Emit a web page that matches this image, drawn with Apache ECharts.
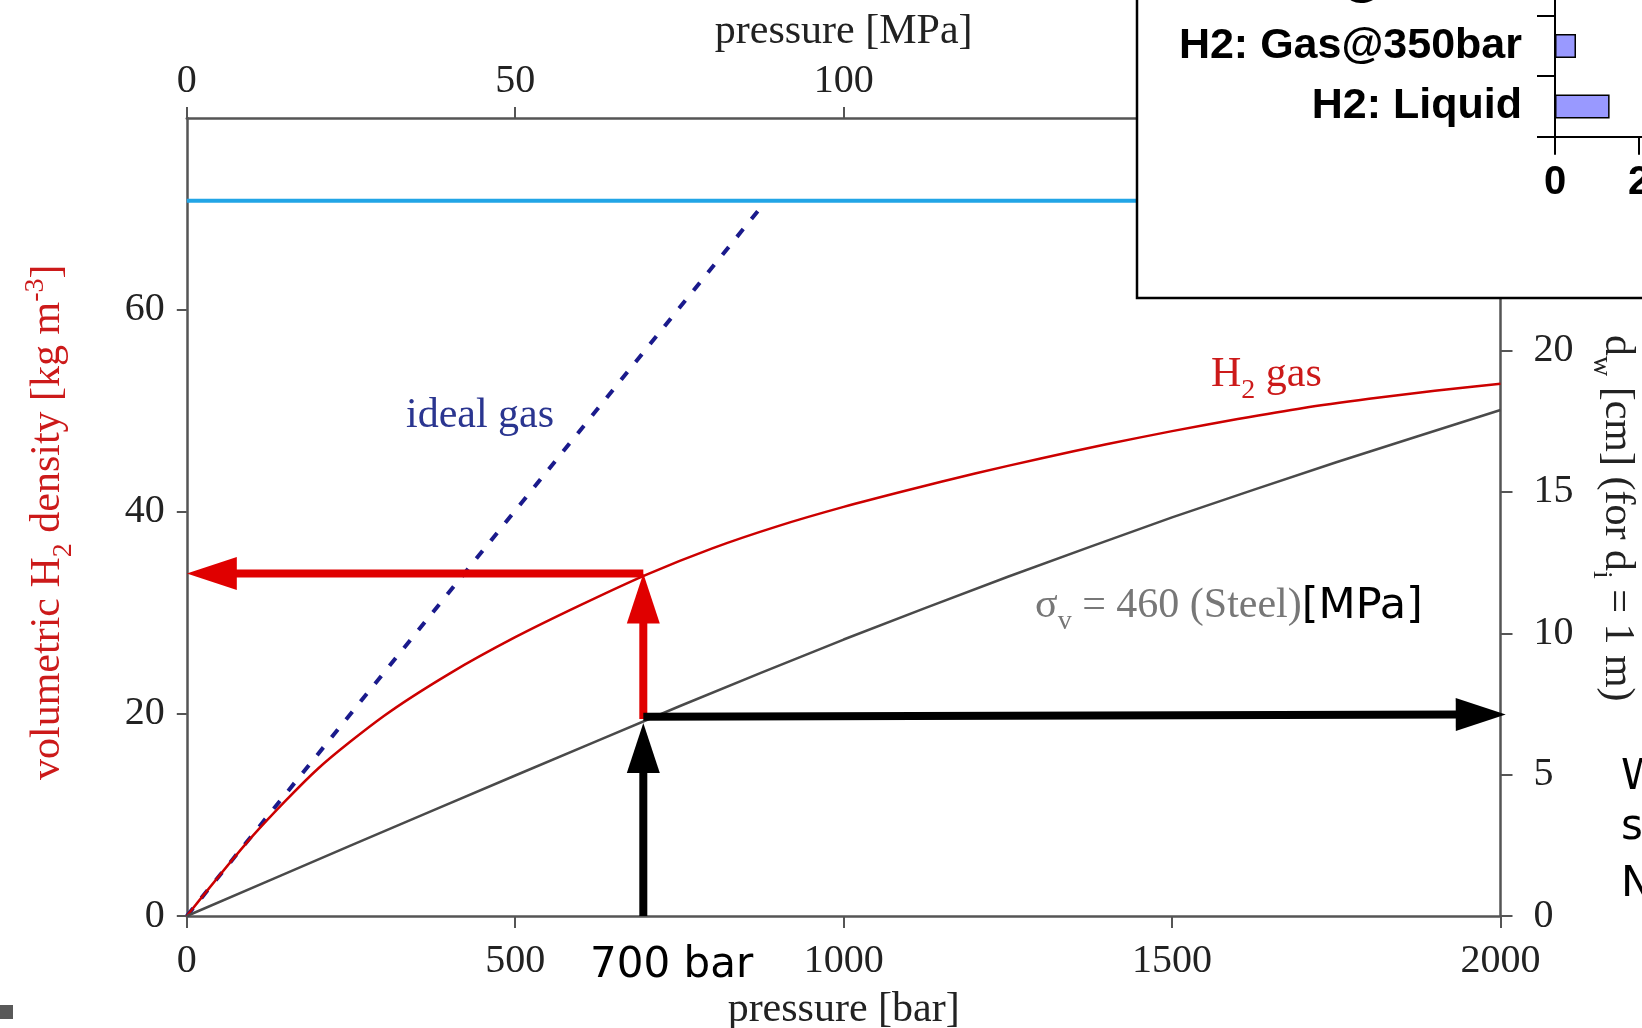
<!DOCTYPE html>
<html>
<head>
<meta charset="utf-8">
<title>H2 density vs pressure</title>
<script src="https://cdn.jsdelivr.net/npm/echarts@6/dist/echarts.min.js"></script>
<style>
html, body { margin: 0; padding: 0; background: #fff; }
#main { width: 1642px; height: 1028px; }
</style>
</head>
<body>
<div id="main"></div>
<script>
// values
var pressureBar = [0, 100, 200, 300, 400, 500, 600, 700, 800, 900, 1000, 1100, 1200, 1300, 1400, 1500, 1600, 1700, 1800, 1900, 2000];
var h2GasDensity = [0, 7.9, 14.6, 19.8, 24.0, 27.6, 30.8, 33.8, 36.4, 38.6, 40.5, 42.2, 43.8, 45.3, 46.7, 48.0, 49.2, 50.3, 51.2, 52.0, 52.7];
var steelPressure = [0, 250, 500, 750, 1000, 1250, 1500, 1750, 2000];
var steelWall = [0, 2.5, 4.97, 7.42, 9.78, 12.0, 14.1, 16.05, 17.9];
var idealGasPressure = [0, 877];
var idealGasDensity = [0, 70.4];
var liquidDensity = 70.8;
var densityTicks = [0, 20, 40, 60];
var wallTicks = [0, 5, 10, 15, 20, 25];
var markPressure = 695;
// arrows: [x from, y from, x to, y to]
var redArrows = [[markPressure, 19.5, markPressure, 33.9], [markPressure, 33.9, 0, 33.9]];
var blackArrows = [[markPressure, 0, markPressure, 6.83], [markPressure, 7.05, 2008, 7.13]];
// inset bar chart (cut off in the picture)
var insetCategories = ['H2: Gas@700bar', 'H2: Gas@350bar', 'H2: Liquid'];
var insetValues = [null, 0.5, 1.3];

var SERIF = '"Liberation Serif", "Times New Roman", serif';
var SANS = '"DejaVu Sans", sans-serif';
var ARIAL = '"Liberation Sans", Arial, sans-serif';
var RED = '#cc1a1a';

var mctx = document.createElement('canvas').getContext('2d');
function fnt(size, fam, weight) {
    return (weight ? weight + ' ' : '') + size + 'px ' + fam;
}
// lay text pieces one after another (for sub/superscripts)
function textRun(pieces) {
    var x = 0, out = [];
    pieces.forEach(function (p) {
        mctx.font = p[1];
        out.push({
            type: 'text', x: x, y: p[3] || 0,
            style: { text: p[0], font: p[1], fill: p[2], align: 'left', verticalAlign: 'middle' }
        });
        x += mctx.measureText(p[0]).width;
    });
    return out;
}
// same, one char at a time with extra tracking
function spacedText(str, font, color, track) {
    return textRun(str.split('').map(function (c) { return [c, font, color, 0]; }))
        .map(function (el, i) { el.x += i * track; return el; });
}

function arrowRenderer(color) {
    return function (params, api) {
        var a = api.coord([api.value(0), api.value(1)]);
        var b = api.coord([api.value(2), api.value(3)]);
        var dx = b[0] - a[0], dy = b[1] - a[1];
        var len = Math.sqrt(dx * dx + dy * dy);
        var ux = dx / len, uy = dy / len;
        var hl = 50, hw = 16.5;
        var bx = b[0] - ux * hl, by = b[1] - uy * hl;
        return {
            type: 'group',
            children: [
                { type: 'line', shape: { x1: a[0], y1: a[1], x2: bx + ux * 3, y2: by + uy * 3 },
                  style: { stroke: color, lineWidth: 8 } },
                { type: 'polygon', shape: { points: [[b[0], b[1]], [bx - uy * hw, by + ux * hw], [bx + uy * hw, by - ux * hw]] },
                  style: { fill: color } }
            ]
        };
    };
}

var chart = echarts.init(document.getElementById('main'));

var axisLine = { show: true, onZero: false, lineStyle: { color: '#555', width: 2.5 } };
var tickStyle = { color: '#555', width: 2 };
function plain(v) { return String(v); }
var labelStyle = { fontFamily: SERIF, fontSize: 40, color: '#222', formatter: plain };

var option = {
    backgroundColor: '#fff',
    animation: false,
    grid: [
        { left: 186.8, right: 141.5, top: 118, bottom: 112, outerBoundsMode: 'none', containLabel: false },
        { left: 1555, top: -44.8, width: 336, height: 181.5, outerBoundsMode: 'none', containLabel: false }
    ],
    xAxis: [
        {
            type: 'value', gridIndex: 0, position: 'bottom', min: 0, max: 2000, interval: 500,
            name: 'pressure [bar]', nameLocation: 'middle', nameGap: 73,
            nameTextStyle: { fontFamily: SERIF, fontSize: 42, color: '#222' },
            axisLine: axisLine,
            axisTick: { length: 12, lineStyle: tickStyle },
            axisLabel: Object.assign({ margin: 25 }, labelStyle),
            splitLine: { show: false }
        },
        {
            type: 'value', gridIndex: 0, position: 'top', min: 0, max: 200, interval: 50,
            name: 'pressure [MPa]', nameLocation: 'middle', nameGap: 65,
            nameTextStyle: { fontFamily: SERIF, fontSize: 42, color: '#222' },
            axisLine: axisLine,
            axisTick: { length: 11, lineStyle: tickStyle },
            axisLabel: Object.assign({ margin: 17 }, labelStyle),
            splitLine: { show: false }
        },
        {
            type: 'value', gridIndex: 1, min: 0, max: 8, interval: 2, z: 110,
            axisLine: { show: true, lineStyle: { color: '#000', width: 2 } },
            axisTick: { show: true, length: 18, lineStyle: { color: '#000', width: 2 } },
            axisLabel: { fontFamily: ARIAL, fontWeight: 'bold', fontSize: 40, color: '#000', margin: 26 },
            splitLine: { show: false }
        }
    ],
    yAxis: [
        {
            type: 'value', gridIndex: 0, position: 'left', min: 0, max: 79,
            axisLine: axisLine,
            axisTick: { length: 10, lineStyle: tickStyle, customValues: densityTicks },
            axisLabel: Object.assign({ margin: 22, customValues: densityTicks }, labelStyle),
            splitLine: { show: false }
        },
        {
            type: 'value', gridIndex: 0, position: 'right', min: 0, max: 28.23,
            axisLine: axisLine,
            axisTick: { length: 12, lineStyle: tickStyle, customValues: wallTicks },
            axisLabel: Object.assign({ margin: 33, customValues: wallTicks }, labelStyle),
            splitLine: { show: false }
        },
        {
            type: 'category', gridIndex: 1, data: insetCategories, inverse: true, z: 110,
            axisLine: { show: true, lineStyle: { color: '#000', width: 2 } },
            axisTick: { show: true, length: 18, lineStyle: { color: '#000', width: 2 } },
            axisLabel: { interval: 0, fontFamily: ARIAL, fontWeight: 'bold', fontSize: 43, color: '#000', margin: 33 }
        }
    ],
    series: [
        {
            name: 'liquid', type: 'line', xAxisIndex: 0, yAxisIndex: 0, symbol: 'none',
            lineStyle: { color: '#22a5e6', width: 4 },
            data: [[0, liquidDensity], [2000, liquidDensity]]
        },
        {
            name: 'ideal gas', type: 'line', xAxisIndex: 0, yAxisIndex: 0, symbol: 'none',
            lineStyle: { color: '#1a1a8c', width: 4, type: [10, 13] },
            data: idealGasPressure.map(function (p, i) { return [p, idealGasDensity[i]]; })
        },
        {
            name: 'H2 gas', type: 'line', xAxisIndex: 0, yAxisIndex: 0, symbol: 'none',
            smooth: 0.25,
            lineStyle: { color: '#cc0000', width: 2.5 },
            data: pressureBar.map(function (p, i) { return [p, h2GasDensity[i]]; })
        },
        {
            name: 'steel', type: 'line', xAxisIndex: 0, yAxisIndex: 1, symbol: 'none',
            smooth: 0.2,
            lineStyle: { color: '#4a4a4a', width: 2.5 },
            data: steelPressure.map(function (p, i) { return [p, steelWall[i]]; })
        },
        {
            type: 'custom', xAxisIndex: 0, yAxisIndex: 0, clip: false, silent: true, z: 10,
            encode: { x: [0, 2], y: [1, 3] },
            renderItem: arrowRenderer('#e00000'),
            data: redArrows
        },
        {
            type: 'custom', xAxisIndex: 0, yAxisIndex: 1, clip: false, silent: true, z: 10,
            encode: { x: [0, 2], y: [1, 3] },
            renderItem: arrowRenderer('#000000'),
            data: blackArrows
        },
        {
            type: 'bar', xAxisIndex: 2, yAxisIndex: 2, barWidth: 24, z: 110,
            itemStyle: { color: '#9999ff', borderColor: '#000', borderWidth: 1.5 },
            data: insetValues
        }
    ],
    graphic: [
        // left axis name
        { type: 'group', x: 48, y: 780, rotation: Math.PI / 2, z: 50,
          children: textRun([
              ['volumetric H', fnt(42, SERIF), RED, 0],
              ['2', fnt(28, SERIF), RED, 16],
              [' density [kg m', fnt(42, SERIF), RED, 0],
              ['-3', fnt(28, SERIF), RED, -12],
              [']', fnt(42, SERIF), RED, 0]
          ]) },
        // right axis name
        { type: 'group', x: 1617, y: 335, rotation: -Math.PI / 2, z: 50,
          children: textRun([
              ['d', fnt(42, SERIF), '#222', 0],
              ['w', fnt(28, SERIF), '#222', 16],
              [' [cm] (for d', fnt(42, SERIF), '#222', 0],
              ['i', fnt(28, SERIF), '#222', 16],
              [' = 1 m)', fnt(42, SERIF), '#222', 0]
          ]) },
        { type: 'text', x: 406, y: 416, z: 50,
          style: { text: 'ideal gas', font: fnt(42, SERIF), fill: '#2a3590', verticalAlign: 'middle' } },
        { type: 'group', x: 1211, y: 375, z: 50,
          children: textRun([
              ['H', fnt(42, SERIF), RED, 0],
              ['2', fnt(28, SERIF), RED, 16],
              [' gas', fnt(42, SERIF), RED, 0]
          ]) },
        { type: 'group', x: 1035, y: 606, z: 50,
          children: textRun([
              ['σ', fnt(42, SERIF), '#777', 0],
              ['v', fnt(28, SERIF), '#777', 16],
              [' = 460 (Steel)', fnt(42, SERIF), '#777', 0],
              ['[MPa]', fnt(43, SANS), '#000', 1]
          ]) },
        { type: 'text', x: 590, y: 966, z: 50,
          style: { text: '700 bar', font: fnt(42, SANS), fill: '#000', verticalAlign: 'middle' } },
        { type: 'text', x: 1621, y: 778, z: 50,
          style: { text: 'W', font: fnt(42, SANS), fill: '#000', verticalAlign: 'middle' } },
        { type: 'text', x: 1621, y: 828, z: 50,
          style: { text: 's', font: fnt(42, SANS), fill: '#000', verticalAlign: 'middle' } },
        { type: 'text', x: 1621, y: 885, z: 50,
          style: { text: 'N', font: fnt(42, SANS), fill: '#000', verticalAlign: 'middle' } },
        { type: 'rect', x: 0, y: 1005, z: 50, shape: { width: 13, height: 14 }, style: { fill: '#595959' } },
        // inset box
        { type: 'rect', x: 1137, y: -10, z: 100, shape: { width: 530, height: 308 },
          style: { fill: '#fff', stroke: '#000', lineWidth: 2.5 } },
        { type: 'group', x: 1202, y: 253, z: 120,
          children: spacedText('Fuel (1 000 000 kJ) wt', fnt(40, ARIAL, 'bold'), '#000', 2.1) }
    ]
};

chart.setOption(option);
</script>
</body>
</html>
